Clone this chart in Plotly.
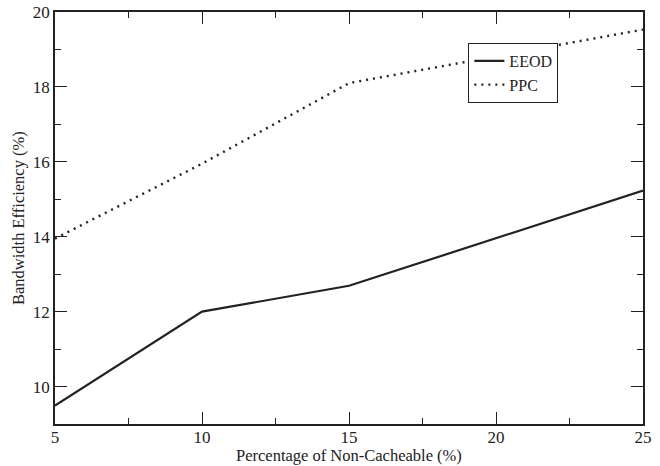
import plotly.graph_objects as go

x_vals = [5, 10, 15, 20, 25]
eeod = [9.49, 12.0, 12.69, 13.97, 15.23]
ppc = [13.95, 15.95, 18.1, 18.82, 19.53]

font = "Liberation Serif"

fig = go.Figure()
fig.add_trace(go.Scatter(x=x_vals, y=eeod, mode="lines", name="EEOD",
                         line=dict(color="#222222", width=2.2)))
fig.add_trace(go.Scatter(x=x_vals, y=ppc, mode="lines", name="PPC",
                         line=dict(color="#222222", width=2.4, dash="2px,5px")))

axis_common = dict(showgrid=False, zeroline=False, showline=True, linecolor="#222222",
                   linewidth=1.5, mirror="ticks", ticks="inside", ticklen=12,
                   tickwidth=1.3, tickcolor="#222222", automargin=False,
                   tickfont=dict(family=font, size=17, color="#222222"))

fig.update_xaxes(range=[5, 25], tickvals=[5, 10, 15, 20, 25], ticklabelstandoff=-3,
                 minor=dict(tickvals=[7.5, 12.5, 17.5, 22.5], ticks="inside", ticklen=6,
                            tickwidth=1.3, tickcolor="#222222"),
                 **axis_common)
fig.update_yaxes(range=[9, 20], tickvals=[10, 12, 14, 16, 18, 20],
                 minor=dict(tickvals=[11, 13, 15, 17, 19], ticks="inside", ticklen=6,
                            tickwidth=1.3, tickcolor="#222222"),
                 **axis_common)

fig.add_annotation(text="Percentage of Non-Cacheable (%)", xref="paper", yref="paper",
                   x=0.5, y=-31 / 412, xanchor="center", yanchor="middle", showarrow=False,
                   font=dict(family=font, size=16.5, color="#222222"))
fig.add_annotation(text="Bandwidth Efficiency (%)", xref="paper", yref="paper",
                   x=-37 / 588, y=0.5, xanchor="center", yanchor="middle", showarrow=False,
                   textangle=-90, font=dict(family=font, size=16.5, color="#222222"))

fig.update_layout(width=660, height=466, margin=dict(l=55, r=17, t=12, b=42),
                  plot_bgcolor="white", paper_bgcolor="white",
                  legend=dict(x=0.703, y=0.925, xanchor="left", yanchor="top",
                              bgcolor="white", bordercolor="#222222", borderwidth=1,
                              font=dict(family=font, size=16, color="#222222"),
                              tracegroupgap=0, itemwidth=30))
fig.write_html("out.html")
